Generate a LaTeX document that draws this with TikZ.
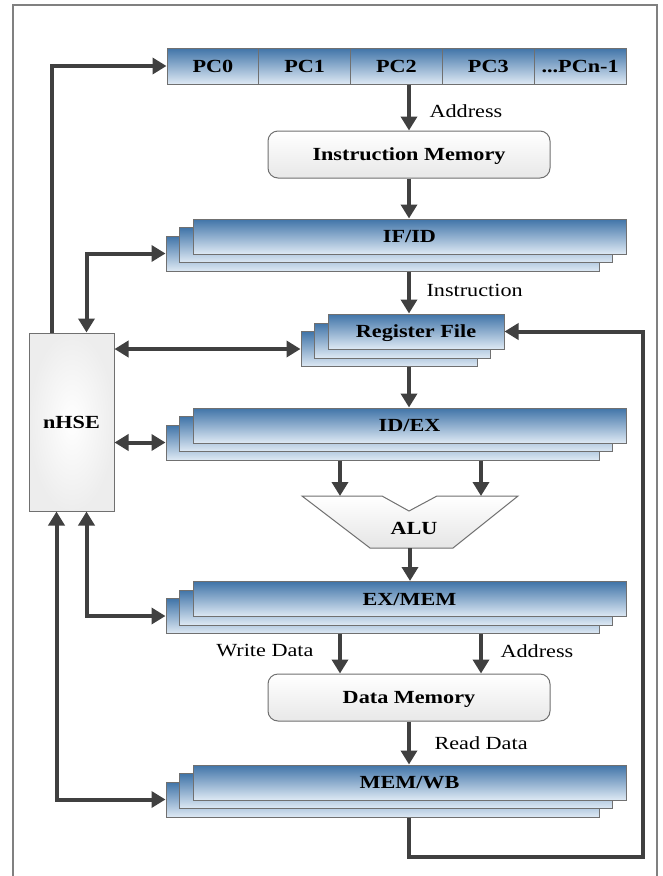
\documentclass[tikz,border=0pt]{standalone}
\usepackage{fontspec}
\setmainfont{Liberation Serif}[FakeStretch=1.2]
\usetikzlibrary{arrows.meta,calc}
\definecolor{regtop}{RGB}{64,116,168}
\definecolor{regbot}{RGB}{222,233,244}
\definecolor{edgegray}{RGB}{112,112,112}
\definecolor{wirecol}{RGB}{64,64,64}
\begin{document}
\begin{tikzpicture}[x=1pt,y=-1pt,
  lbl/.style={font=\fontsize{18.5}{20}\selectfont\bfseries, text depth=0pt},
  txt/.style={font=\fontsize{18.5}{20}\selectfont},
  reg/.style={draw=edgegray, line width=1pt, top color=regtop, bottom color=regbot,
              minimum height=35pt, inner sep=0pt},
  stage/.style={reg, minimum width=433pt},
  rf/.style={reg, minimum width=176pt},
  pccell/.style={reg, minimum width=91.8pt, minimum height=36pt, lbl},
  mem/.style={draw=edgegray, line width=1pt, rounded corners=10pt, top color=white,
              bottom color=black!9, minimum width=282pt, minimum height=47pt, lbl},
  tip/.tip={Triangle[length=14pt,width=16pt]},
  wire/.style={draw=wirecol, line width=4pt, -tip},
  wire2/.style={draw=wirecol, line width=4pt, tip-tip},
]
% canvas and outer frame
\fill[white] (0,0) rectangle (662,876);
\useasboundingbox (0,0) rectangle (662,876);
\draw[black!50, line width=1.2pt] (13,876) -- (13,5) -- (657,5) -- (657,876);

% program counters
\node[pccell] (pc0) at (212.9,66) {PC0};
\node[pccell] (pc1) at (304.7,66) {PC1};
\node[pccell] (pc2) at (396.5,66) {PC2};
\node[pccell] (pc3) at (488.3,66) {PC3};
\node[pccell] (pc4) at (580.1,66) {...PCn-1};

% memories
\node[mem] (imem) at (409,154.5) {Instruction Memory};
\node[mem] (dmem) at (409,697.5) {Data Memory};

% pipeline registers, three layers each
\newcommand\stagestack[4]{%
  \node[stage] (#1c) at (#2-27,#3+17) {};
  \node[stage] (#1b) at (#2-13.5,#3+8.5) {};
  \node[stage,lbl] (#1) at (#2,#3) {#4};}
\stagestack{ifid}{409.5}{236.5}{IF/ID}
\stagestack{idex}{409.5}{425.5}{ID/EX}
\stagestack{exmem}{409.5}{599}{EX/MEM}
\stagestack{memwb}{409.5}{782.5}{MEM/WB}

% register file
\node[rf] (regc) at (389,349) {};
\node[rf] (regb) at (402.5,340.5) {};
\node[rf,lbl] (reg) at (416,331.5) {Register File};

% hazard unit
\node[draw=edgegray, line width=1pt, inner color=white, outer color=black!7,
      minimum width=85pt, minimum height=178pt, lbl] (nhse) at (71.5,422) {nHSE};

% ALU
\coordinate (alul) at (340,496);
\coordinate (alur) at (481,496);
\coordinate (alub) at (410,548);
\draw[draw=edgegray, line width=1pt, top color=white, bottom color=black!10]
  (302,496) -- (382,496) -- (409,511) -- (437,496) -- (518,496) -- (453,548) -- (370,548) -- cycle;
\node[lbl] (alu) at (414,528) {ALU};

% datapath
\draw[wire] (pc2.south -| imem.north) -- (imem.north);
\draw[wire] (imem.south) -- (ifid.north -| imem.south);
\draw[wire] (ifidc.south -| imem.south) -- (reg.north -| imem.south);
\draw[wire] (regc.south -| imem.south) -- (idex.north -| imem.south);
\draw[wire] (idexc.south -| alul) -- (alul);
\draw[wire] (idexc.south -| alur) -- (alur);
\draw[wire] (alub) -- (exmem.north -| alub);
\draw[wire] (exmemc.south -| alul) -- (dmem.north -| alul);
\draw[wire] (exmemc.south -| alur) -- (dmem.north -| alur);
\draw[wire] (dmem.south) -- (memwb.north -| dmem.south);
\coordinate (fb) at (643,857);
\draw[wire] (memwbc.south -| dmem.south) |- (fb) |- (reg.east);

% hazard unit links
\draw[wire] ($(nhse.north west)+(23,0)$) |- (pc0.west);
\draw[wire2] (ifidc.west) -| ($(nhse.north west)+(58,0)$);
\draw[wire2] (nhse.east |- regc.west) -- (regc.west);
\draw[wire2] (nhse.east |- idexc.west) -- (idexc.west);
\draw[wire2] (exmemc.west) -| ($(nhse.south west)+(58,0)$);
\draw[wire2] (memwbc.west) -| ($(nhse.south west)+(28,0)$);

% signal names
\node[txt, anchor=west] (laddr) at (426,111) {Address};
\node[txt, anchor=west] (linstr) at (423,290) {Instruction};
\node[txt, anchor=east] (lwd) at (317,651) {Write Data};
\node[txt, anchor=west] (laddr2) at (497,651) {Address};
\node[txt, anchor=west] (lrd) at (431,743) {Read Data};
\end{tikzpicture}
\end{document}
